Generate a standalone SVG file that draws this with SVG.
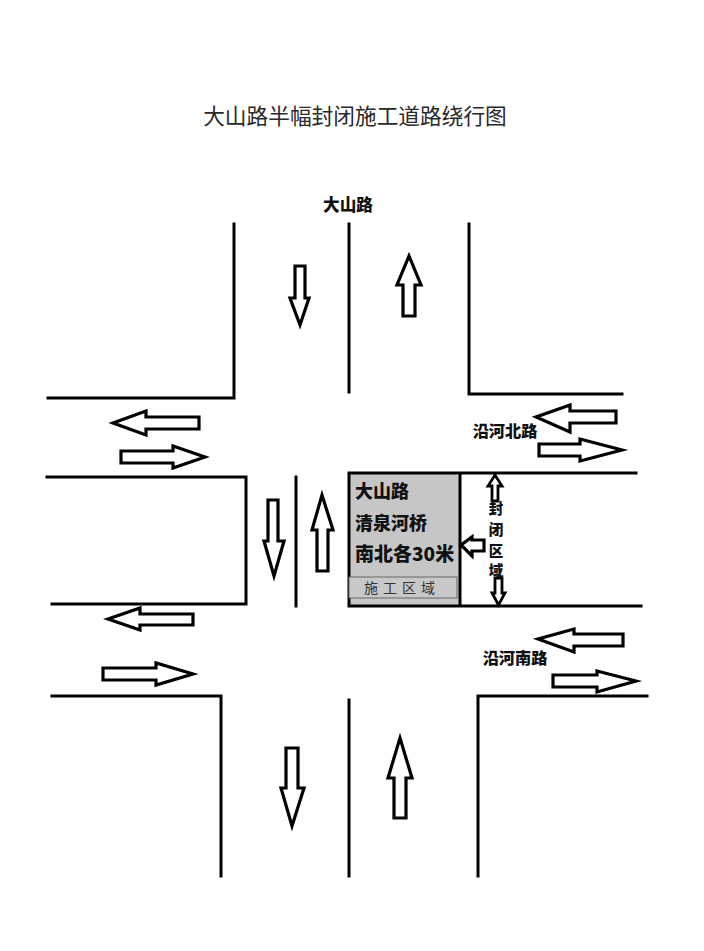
<svg xmlns="http://www.w3.org/2000/svg" width="704" height="951" viewBox="0 0 704 951">
<style>
.r{fill:none;stroke:#000;stroke-width:3;stroke-linecap:square}
.a{fill:#fff;stroke:#000;stroke-width:3.2;stroke-linejoin:miter}
.s{stroke-width:2.8}
text{font-family:"Noto Sans CJK SC","Liberation Sans",sans-serif;fill:#111}
.b{font-weight:900}
</style>
<rect width="704" height="951" fill="#fff"/>
<g id="title"><text x="355" y="124" font-size="21.700" text-anchor="middle" style="fill:#2a2a2a;font-weight:400">大山路半幅封闭施工道路绕行图</text></g>
<rect x="348" y="474" width="112" height="132" rx="6" fill="#c6c6c6"/>
<g id="roads">
<path class="r" d="M234 224V398H48M349 224V392M469 224V394H622"/>
<path class="r" d="M47 477H246V604H52M296 477V606"/>
<path class="r" d="M349 473H636M349 473V606H641M460 473V606"/>
<path class="r" d="M52 696H221V876M349 700V876M478 876V696H647"/>
</g>
<g id="arrows">
<path class="a" d="M295 266H305V298H309L300 325L290 298H295Z"/>
<path class="a" d="M403 316H415V285H421L409 256L397 285H403Z"/>
<path class="a" d="M199 417V429H146V435L113 423L146 411V417Z"/>
<path class="a" d="M121 451V463H173V468L205 457L173 446V451Z"/>
<path class="a" d="M616 411V423H570V432L536 417L570 405V411Z"/>
<path class="a" d="M539 444V456H580V461L622 450L580 439V444Z"/>
<path class="a" d="M268 500H278V541H284L274 576L264 541H268Z"/>
<path class="a" d="M317 571H328V530H333L322 495L312 530H317Z"/>
<path class="a" d="M193 614V625H140V630L108 619L140 608V614Z"/>
<path class="a" d="M103 668V680H156V685L193 674L156 663V668Z"/>
<path class="a" d="M623 634V646H574V652L538 639L574 629V634Z"/>
<path class="a" d="M553 675V687H597V692L636 681L597 671V675Z"/>
<path class="a" d="M286 748H298V788H304L292 826L281 788H286Z"/>
<path class="a" d="M394 818H406V778H412L400 738L388 778H394Z"/>
<path class="a" d="M484 540V551H472V556L461 545L472 537V540Z"/>
<path class="a s" d="M492 501H498V486H502L495 475L488 486H492Z"/>
<path class="a s" d="M495 578H502V593H505L498.500 605L492 593H495Z"/>
</g>
<g id="work-zone">
<rect x="349" y="577" width="108" height="21" fill="#c8c8c8" stroke="#666" stroke-width="1"/>
<text x="364" y="593" font-size="14" style="fill:#333;letter-spacing:5px">施工区域</text>
<text class="b" x="355" y="498" font-size="18">大山路</text>
<text class="b" x="355" y="530" font-size="18">清泉河桥</text>
<text class="b" x="355" y="561" font-size="19">南北各30米</text>
</g>
<g id="labels">
<text class="b" x="348" y="211" font-size="16.600" text-anchor="middle">大山路</text>
<text class="b" x="505" y="437" font-size="16.200" text-anchor="middle">沿河北路</text>
<text class="b" x="515" y="664" font-size="16.200" text-anchor="middle">沿河南路</text>
<text class="b" x="496" y="514" font-size="14.500" text-anchor="middle">封</text>
<text class="b" x="496" y="535" font-size="14.500" text-anchor="middle">闭</text>
<text class="b" x="496" y="555.500" font-size="14.500" text-anchor="middle">区</text>
<text class="b" x="496" y="576" font-size="14.500" text-anchor="middle">域</text>
</g>
</svg>
